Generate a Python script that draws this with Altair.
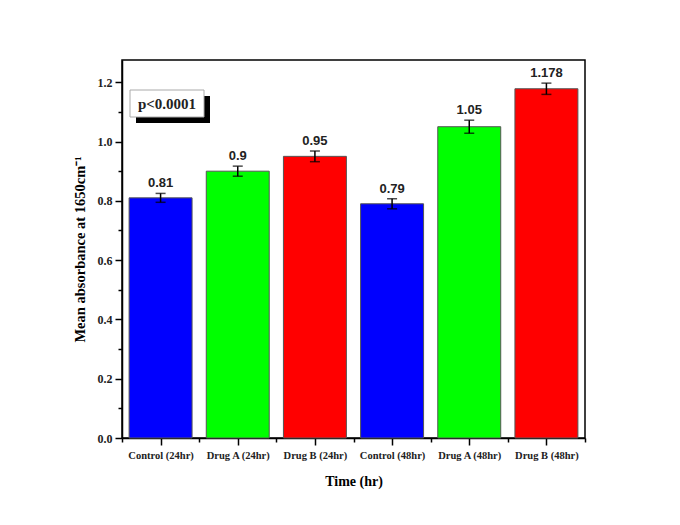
import json
import altair as alt
import pandas as pd

categories = ["Control (24hr)", "Drug A (24hr)", "Drug B (24hr)",
              "Control (48hr)", "Drug A (48hr)", "Drug B (48hr)"]
values = [0.81, 0.90, 0.95, 0.79, 1.05, 1.178]
errors = [0.015, 0.017, 0.018, 0.017, 0.022, 0.019]
labels = ["0.81", "0.9", "0.95", "0.79", "1.05", "1.178"]
colors = ["#0000FF", "#00FF00", "#FF0000", "#0000FF", "#00FF00", "#FF0000"]

df = pd.DataFrame({
    "idx": list(range(len(categories))),
    "cat": categories,
    "value": values,
    "err": errors,
    "label": labels,
    "color": colors,
})
df["x0"] = df["idx"] - 0.408
df["x1"] = df["idx"] + 0.408
df["base"] = 0.0
df["lo"] = df["value"] - df["err"]
df["hi"] = df["value"] + df["err"]

SERIF = "Liberation Serif"
SANS = "Liberation Sans"

xscale = alt.Scale(domain=[-0.5, 5.5], nice=False, zero=False)
yscale = alt.Scale(domain=[0, 1.275], nice=False)

label_expr = json.dumps(categories) + "[round(datum.value)]"

xaxis = alt.Axis(values=list(range(6)), labelExpr=label_expr, title="Time (hr)",
                 grid=False, tickSize=7, tickColor="black", domainColor="black",
                 domainWidth=1.5, tickWidth=1.5, labelFont=SERIF, labelFontWeight="bold",
                 labelFontSize=10.5, labelColor="#222", titleFont=SERIF,
                 titleFontWeight="bold", titleFontSize=14, titlePadding=14,
                 labelPadding=5)
yaxis = alt.Axis(values=[0, 0.2, 0.4, 0.6, 0.8, 1.0, 1.2], format=".1f",
                 title="Mean absorbance at 1650cm⁻¹", grid=False, tickSize=7,
                 tickColor="black", domainColor="black", domainWidth=1.5,
                 tickWidth=1.5, labelFont=SERIF, labelFontWeight="bold",
                 labelFontSize=12, labelColor="#222", titleFont=SERIF,
                 titleFontWeight="bold", titleFontSize=14.5, titlePadding=10,
                 labelPadding=3)

bars = alt.Chart(df).mark_bar(stroke="#555555", strokeWidth=1).encode(
    x=alt.X("x0:Q", scale=xscale, axis=xaxis),
    x2="x1:Q",
    y=alt.Y("value:Q", scale=yscale, axis=yaxis),
    y2="base:Q",
    color=alt.Color("color:N", scale=None),
)

minor_x = alt.Chart(df).mark_point(opacity=0).encode(
    x=alt.X("idx:Q", scale=xscale,
            axis=alt.Axis(values=[i - 0.5 for i in range(7)], labels=False,
                          title=None, tickSize=4, tickWidth=1.5, tickColor="black",
                          domain=False, grid=False, orient="bottom")),
    y=alt.Y("value:Q", scale=yscale,
            axis=alt.Axis(values=[0.1, 0.3, 0.5, 0.7, 0.9, 1.1], labels=False,
                          title=None, tickSize=4, tickWidth=1.5, tickColor="black",
                          domain=False, grid=False, orient="left")),
)

errbars = alt.Chart(df).mark_errorbar(ticks={"size": 10, "thickness": 1.5},
                                      thickness=1.5, color="black").encode(
    x=alt.X("idx:Q", scale=xscale, axis=None),
    y=alt.Y("lo:Q", scale=yscale, axis=None),
    y2="hi:Q",
)

texts = alt.Chart(df).mark_text(font=SANS, fontWeight="bold", fontSize=13,
                                dy=-10, color="#222").encode(
    x=alt.X("idx:Q", scale=xscale, axis=None),
    y=alt.Y("hi:Q", scale=yscale, axis=None),
    text="label:N",
)

# p-value annotation box with shadow
shadow = alt.Chart(df.head(1)).mark_rect(color="black").encode(
    x=alt.value(14), x2=alt.value(88), y=alt.value(36), y2=alt.value(63))
box = alt.Chart(df.head(1)).mark_rect(fill="white", stroke="#aaaaaa",
                                       strokeWidth=1).encode(
    x=alt.value(8), x2=alt.value(82), y=alt.value(30), y2=alt.value(57))
ptext = alt.Chart(df.head(1)).mark_text(font=SERIF, fontWeight="bold", fontSize=15,
                                        color="#222").encode(
    x=alt.value(45), y=alt.value(44), text=alt.value("p<0.0001"))

chart = alt.layer(bars, minor_x, errbars, texts, shadow, box, ptext).resolve_axis(
    x="independent", y="independent"
).properties(
    width=463, height=378,
    autosize=alt.AutoSizeParams(type="none"),
    padding={"left": 114, "top": 52, "right": 80, "bottom": 70},
    background="white",
).configure_view(stroke="black", strokeWidth=1.5)

chart.save("out.html", embed_options={"renderer": "svg", "actions": False})
